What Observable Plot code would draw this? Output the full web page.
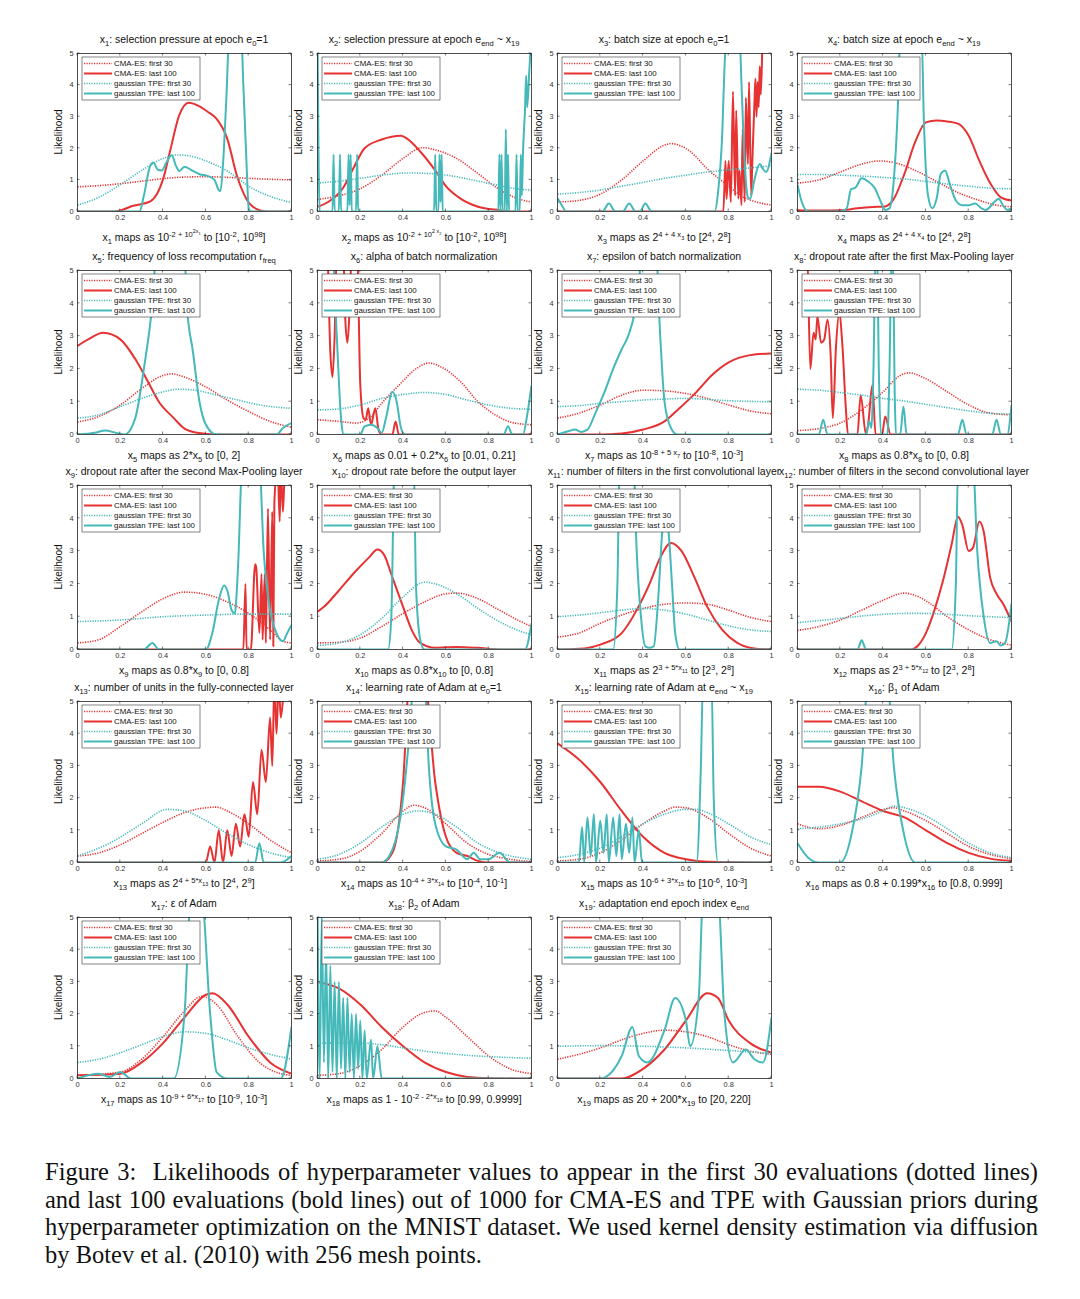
<!DOCTYPE html>
<html><head><meta charset="utf-8">
<script src="https://cdn.jsdelivr.net/npm/d3@7"></script>
<script src="https://cdn.jsdelivr.net/npm/@observablehq/plot@0.6"></script>
<style>
body{margin:0;background:#fff;font-family:"Liberation Sans",Arial,sans-serif;}
#root{position:relative;width:1080px;height:1299px;overflow:hidden;}
.title,.xlab{position:absolute;width:340px;text-align:center;white-space:nowrap;font-size:10.5px;color:#111;line-height:12px;}
.title sub,.xlab sub,.title sup,.xlab sup{font-size:0.72em;line-height:0;}
.panel{position:absolute;}
.caption{position:absolute;left:45px;top:1158px;width:993px;font-family:"Liberation Serif","Times New Roman",serif;font-size:24.5px;line-height:27.6px;color:#111;}
.caption span{display:block;text-align:justify;text-align-last:justify;white-space:nowrap;}
.caption span.last{text-align-last:left;}
</style></head>
<body><div id="root"></div>
<script>
// ---------- DATA ----------
const xTicks = [0, 0.2, 0.4, 0.6, 0.8, 1];
const yTicks = [0, 1, 2, 3, 4, 5];
const legendLabels = ["CMA-ES: first 30", "CMA-ES: last 100", "gaussian TPE: first 30", "gaussian TPE: last 100"];

const titles = [
 "x<sub>1</sub>: selection pressure at epoch e<sub>0</sub>=1",
 "x<sub>2</sub>: selection pressure at epoch e<sub>end</sub> ~ x<sub>19</sub>",
 "x<sub>3</sub>: batch size at epoch e<sub>0</sub>=1",
 "x<sub>4</sub>: batch size at epoch e<sub>end</sub> ~ x<sub>19</sub>",
 "x<sub>5</sub>: frequency of loss recomputation r<sub>freq</sub>",
 "x<sub>6</sub>: alpha of batch normalization",
 "x<sub>7</sub>: epsilon of batch normalization",
 "x<sub>8</sub>: dropout rate after the first Max-Pooling layer",
 "x<sub>9</sub>: dropout rate after the second Max-Pooling layer",
 "x<sub>10</sub>: dropout rate before the output layer",
 "x<sub>11</sub>: number of filters in the first convolutional layer",
 "x<sub>12</sub>: number of filters in the second convolutional layer",
 "x<sub>13</sub>: number of units in the fully-connected layer",
 "x<sub>14</sub>: learning rate of Adam at e<sub>0</sub>=1",
 "x<sub>15</sub>: learning rate of Adam at e<sub>end</sub> ~ x<sub>19</sub>",
 "x<sub>16</sub>: β<sub>1</sub> of Adam",
 "x<sub>17</sub>: ε of Adam",
 "x<sub>18</sub>: β<sub>2</sub> of Adam",
 "x<sub>19</sub>: adaptation end epoch index e<sub>end</sub>"
];
const xLabels = [
 "x<sub>1</sub> maps as 10<sup>-2 + 10<sup>2x<sub>1</sub></sup></sup> to [10<sup>-2</sup>, 10<sup>98</sup>]",
 "x<sub>2</sub> maps as 10<sup>-2 + 10<sup>2 x<sub>2</sub></sup></sup> to [10<sup>-2</sup>, 10<sup>98</sup>]",
 "x<sub>3</sub> maps as 2<sup>4 + 4 x<sub>3</sub></sup> to [2<sup>4</sup>, 2<sup>8</sup>]",
 "x<sub>4</sub> maps as 2<sup>4 + 4 x<sub>4</sub></sup> to [2<sup>4</sup>, 2<sup>8</sup>]",
 "x<sub>5</sub> maps as 2*x<sub>5</sub> to [0, 2]",
 "x<sub>6</sub> maps as 0.01 + 0.2*x<sub>6</sub> to [0.01, 0.21]",
 "x<sub>7</sub> maps as 10<sup>-8 + 5 x<sub>7</sub></sup> to [10<sup>-8</sup>, 10<sup>-3</sup>]",
 "x<sub>8</sub> maps as 0.8*x<sub>8</sub> to [0, 0.8]",
 "x<sub>9</sub> maps as 0.8*x<sub>9</sub> to [0, 0.8]",
 "x<sub>10</sub> maps as 0.8*x<sub>10</sub> to [0, 0.8]",
 "x<sub>11</sub> maps as 2<sup>3 + 5*x<sub>11</sub></sup> to [2<sup>3</sup>, 2<sup>8</sup>]",
 "x<sub>12</sub> maps as 2<sup>3 + 5*x<sub>12</sub></sup> to [2<sup>3</sup>, 2<sup>8</sup>]",
 "x<sub>13</sub> maps as 2<sup>4 + 5*x<sub>13</sub></sup> to [2<sup>4</sup>, 2<sup>9</sup>]",
 "x<sub>14</sub> maps as 10<sup>-4 + 3*x<sub>14</sub></sup> to [10<sup>-4</sup>, 10<sup>-1</sup>]",
 "x<sub>15</sub> maps as 10<sup>-6 + 3*x<sub>15</sub></sup> to [10<sup>-6</sup>, 10<sup>-3</sup>]",
 "x<sub>16</sub> maps as 0.8 + 0.199*x<sub>16</sub> to [0.8, 0.999]",
 "x<sub>17</sub> maps as 10<sup>-9 + 6*x<sub>17</sub></sup> to [10<sup>-9</sup>, 10<sup>-3</sup>]",
 "x<sub>18</sub> maps as 1 - 10<sup>-2 - 2*x<sub>18</sub></sup> to [0.99, 0.9999]",
 "x<sub>19</sub> maps as 20 + 200*x<sub>19</sub> to [20, 220]"
];
const showYLabel = [1,1,1,1, 1,1,1,1, 1,1,1,0, 1,1,1,1, 1,1,1];

// panel 1
const x1_cma30 = [[0,0.78],[0.1,0.82],[0.2,0.88],[0.3,0.96],[0.4,1.04],[0.5,1.09],[0.6,1.1],[0.7,1.08],[0.8,1.05],[0.9,1.02],[1,1.0]];
const x1_cma100 = [[0,0],[0.15,0],[0.19,0.02],[0.26,0.18],[0.34,0.32],[0.40,1.03],[0.435,1.98],[0.475,3.04],[0.52,3.44],[0.56,3.36],[0.61,3.15],[0.65,2.93],[0.70,2.3],[0.745,1.13],[0.79,0.39],[0.84,0.07],[0.885,0],[1,0]];
const x1_tpe30 = [[0,0.2],[0.1,0.45],[0.2,0.85],[0.3,1.3],[0.4,1.68],[0.47,1.79],[0.55,1.72],[0.6,1.6],[0.7,1.28],[0.75,1.05],[0.8,0.8],[0.9,0.48],[1,0.28]];
const x1_tpe100 = [[0,0],[0.29,0],[0.31,0.5],[0.34,1.45],[0.355,1.55],[0.375,1.32],[0.395,1.3],[0.415,1.55],[0.44,1.78],[0.46,1.45],[0.475,1.28],[0.5,1.42],[0.53,1.32],[0.57,1.18],[0.61,1.12],[0.64,1.0],[0.66,0.68],[0.668,0.65],[0.68,1.5],[0.695,3.5],[0.71,5.6],[0.765,5.6],[0.775,4],[0.79,1.5],[0.80,0.1],[0.81,0],[1,0]];
// panel 2
const x2_cma30 = [[0,0.38],[0.1,0.5],[0.2,0.72],[0.3,1.15],[0.4,1.68],[0.49,2.02],[0.55,1.95],[0.65,1.68],[0.75,1.2],[0.85,0.7],[0.93,0.42],[1,0.3]];
const x2_cma100 = [[0,0.15],[0.05,0.3],[0.12,0.75],[0.17,1.4],[0.22,2.0],[0.3,2.28],[0.39,2.4],[0.42,2.3],[0.48,1.9],[0.55,1.3],[0.6,0.8],[0.67,0.4],[0.75,0.15],[0.85,0.04],[0.9,0],[1,0]];
const x2_tpe30 = [[0,0.9],[0.1,0.96],[0.2,1.05],[0.3,1.15],[0.42,1.22],[0.55,1.19],[0.65,1.1],[0.75,0.96],[0.85,0.82],[0.93,0.72],[1,0.68]];
const x2_tpe100 = [[0,5.6],[0.01,0],[0.07,0],[0.075,1.8],[0.08,0],[0.1,0],[0.105,1.8],[0.11,0],[0.14,0],[0.145,1.8],[0.15,0.2],[0.155,1.8],[0.16,0],[0.18,0],[0.185,1.8],[0.19,0],[0.545,0],[0.55,1.8],[0.555,0],[0.565,0],[0.57,1.8],[0.575,0.3],[0.58,1.8],[0.585,0],[0.845,0],[0.85,1.8],[0.855,0],[0.86,1.8],[0.865,0],[0.875,0],[0.88,2.6],[0.885,0],[0.89,1.8],[0.895,0],[0.925,0],[0.93,1.8],[0.935,0],[0.945,0],[0.95,1.8],[0.955,0.5],[0.96,1.8],[0.97,3.3],[0.975,4.3],[0.98,3.3],[0.99,4.5],[1,5.6]];
// panel 3
const x3_cma30 = [[0,0.3],[0.1,0.35],[0.2,0.55],[0.3,1.0],[0.4,1.6],[0.5,2.1],[0.53,2.15],[0.62,1.9],[0.7,1.35],[0.8,0.8],[0.87,0.45],[0.93,0.3],[1,0.2]];
const x3_cma100 = [[0,0],[0.775,0],[0.785,1.6],[0.79,0.4],[0.80,1.6],[0.81,0.3],[0.82,3.8],[0.83,0.5],[0.835,3.2],[0.845,0.4],[0.85,1.3],[0.86,0.2],[0.865,2.6],[0.875,0.3],[0.88,3.6],[0.89,1.5],[0.895,4.1],[0.905,0.5],[0.91,1.5],[0.92,3.4],[0.925,4.2],[0.93,3.0],[0.935,4.1],[0.94,3.3],[0.945,4.6],[0.95,3.7],[0.96,5.6],[1,5.6]];
const x3_tpe30 = [[0,0.55],[0.1,0.6],[0.2,0.68],[0.3,0.8],[0.4,0.92],[0.5,1.05],[0.6,1.15],[0.7,1.25],[0.8,1.32],[0.9,1.38],[1,1.45]];
const x3_tpe100 = [[0,0.42],[0.02,0.2],[0.04,0],[0.21,0],[0.24,0.25],[0.27,0],[0.305,0],[0.335,0.25],[0.365,0],[0.385,0],[0.41,0.25],[0.44,0],[0.735,0],[0.75,0.6],[0.77,2.5],[0.78,4.5],[0.79,5.6],[0.85,5.6],[0.86,4],[0.875,1.5],[0.89,0.45],[0.9,0.4],[0.92,1.0],[0.945,1.5],[0.96,1.35],[0.975,1.25],[1,1.85]];
// panel 4
const x4_cma30 = [[0,0.9],[0.1,1.0],[0.2,1.25],[0.3,1.5],[0.38,1.6],[0.45,1.55],[0.55,1.3],[0.65,0.95],[0.75,0.6],[0.85,0.35],[0.93,0.2],[1,0.15]];
const x4_cma100 = [[0,0.04],[0.1,0.03],[0.2,0.04],[0.28,0.1],[0.35,0.14],[0.41,0.16],[0.45,0.4],[0.5,1.2],[0.55,2.2],[0.6,2.82],[0.65,2.88],[0.7,2.85],[0.75,2.78],[0.8,2.4],[0.85,1.6],[0.9,0.9],[0.95,0.45],[1,0.35]];
const x4_tpe30 = [[0,1.17],[0.1,1.17],[0.2,1.15],[0.3,1.12],[0.4,1.08],[0.5,1.03],[0.6,0.95],[0.7,0.87],[0.8,0.8],[0.9,0.74],[1,0.72]];
const x4_tpe100 = [[0,0.85],[0.02,0.3],[0.05,0],[0.2,0],[0.23,0.1],[0.25,0.7],[0.27,0.75],[0.3,1.05],[0.33,0.95],[0.36,0.75],[0.39,0.3],[0.41,0.05],[0.43,0.1],[0.45,1],[0.47,3.5],[0.48,5.6],[0.58,5.6],[0.59,3],[0.61,0.5],[0.63,0.1],[0.65,0.4],[0.67,1.2],[0.69,1.3],[0.71,0.9],[0.74,0.35],[0.77,0.2],[0.8,0.2],[0.83,0.25],[0.86,0.1],[0.88,0.05],[0.92,0.3],[0.94,0.4],[0.96,0.2],[0.98,0.05],[1,0.1]];
// panel 5
const x5_cma30 = [[0,0.38],[0.1,0.55],[0.2,0.9],[0.3,1.4],[0.4,1.8],[0.44,1.85],[0.5,1.75],[0.6,1.45],[0.7,1.05],[0.8,0.7],[0.9,0.4],[1,0.22]];
const x5_cma100 = [[0,2.7],[0.05,2.9],[0.12,3.1],[0.2,2.9],[0.27,2.3],[0.33,1.6],[0.38,1.0],[0.45,0.5],[0.5,0.18],[0.56,0.05],[0.65,0],[1,0]];
const x5_tpe30 = [[0,0.5],[0.1,0.6],[0.2,0.85],[0.3,1.1],[0.4,1.3],[0.47,1.38],[0.55,1.35],[0.65,1.2],[0.75,1.05],[0.85,0.9],[0.95,0.82],[1,0.8]];
const x5_tpe100 = [[0,0],[0.08,0.05],[0.13,0.12],[0.18,0.05],[0.22,0],[0.27,0.5],[0.31,2],[0.35,4],[0.37,5.6],[0.5,5.6],[0.51,4],[0.54,2.5],[0.57,1],[0.6,0.3],[0.65,0],[0.93,0],[0.96,0.2],[1,0.35]];
// panel 6
const x6_cma30 = [[0,0.45],[0.1,0.4],[0.18,0.35],[0.25,0.55],[0.3,0.95],[0.38,1.5],[0.46,2.0],[0.52,2.18],[0.58,2.05],[0.67,1.6],[0.75,1.0],[0.83,0.6],[0.92,0.35],[1,0.3]];
const x6_cma100 = [[0,5.6],[0.045,5.6],[0.06,2.5],[0.07,1.75],[0.08,3],[0.09,5.6],[0.12,5.6],[0.13,3.5],[0.14,2.8],[0.15,3.8],[0.16,5.6],[0.185,5.6],[0.2,1.5],[0.215,0.5],[0.225,0.45],[0.237,0.8],[0.25,0.3],[0.27,0.8],[0.285,0.15],[0.3,0],[0.35,0],[0.365,0.4],[0.38,0],[1,0]];
const x6_tpe30 = [[0,0.75],[0.1,0.78],[0.2,0.9],[0.3,1.1],[0.4,1.22],[0.5,1.28],[0.6,1.22],[0.7,1.05],[0.8,0.9],[0.9,0.8],[1,0.77]];
const x6_tpe100 = [[0,5.6],[0.07,5.6],[0.09,3],[0.11,0.5],[0.12,0],[0.2,0],[0.22,0.25],[0.25,0.3],[0.28,0.2],[0.3,0.05],[0.32,0.5],[0.35,1.3],[0.37,1.0],[0.39,0.2],[0.41,0],[0.87,0],[0.89,0.25],[0.91,0],[0.96,0],[0.98,0.6],[1,1.5]];
// panel 7
const x7_cma30 = [[0,0.5],[0.1,0.65],[0.2,0.9],[0.3,1.2],[0.4,1.35],[0.5,1.33],[0.6,1.25],[0.7,1.1],[0.8,0.9],[0.9,0.72],[1,0.63]];
const x7_cma100 = [[0,0],[0.2,0],[0.3,0.03],[0.4,0.15],[0.5,0.4],[0.57,0.8],[0.65,1.3],[0.72,1.8],[0.8,2.2],[0.9,2.42],[1,2.47]];
const x7_tpe30 = [[0,0.85],[0.1,0.88],[0.2,0.95],[0.3,1.0],[0.4,1.05],[0.5,1.08],[0.6,1.1],[0.7,1.07],[0.8,1.03],[0.9,1.01],[1,1.0]];
const x7_tpe100 = [[0,0],[0.05,0.1],[0.08,0.15],[0.11,0.08],[0.14,0.15],[0.18,0.7],[0.22,1.3],[0.26,2.0],[0.3,2.6],[0.33,3.0],[0.36,3.7],[0.38,4.6],[0.395,5.6],[0.46,5.6],[0.48,3],[0.5,1],[0.53,0.2],[0.56,0],[1,0]];
// panel 8
const x8_cma30 = [[0,0.12],[0.1,0.18],[0.2,0.35],[0.3,0.75],[0.4,1.3],[0.48,1.8],[0.52,1.88],[0.6,1.7],[0.7,1.3],[0.8,0.9],[0.9,0.65],[1,0.6]];
const x8_cma100 = [[0,5.6],[0.045,5.6],[0.06,2.0],[0.075,3.1],[0.085,2.9],[0.093,3.6],[0.11,2.8],[0.125,2.9],[0.14,3.5],[0.155,2.4],[0.165,0.5],[0.18,2.7],[0.195,3.7],[0.21,2.7],[0.225,0.9],[0.236,0],[0.28,0],[0.295,1.2],[0.32,0],[0.33,0.3],[0.35,1.5],[0.365,0],[0.395,0],[0.41,0.55],[0.435,0],[1,0]];
const x8_tpe30 = [[0,1.38],[0.1,1.35],[0.2,1.28],[0.3,1.2],[0.4,1.1],[0.5,1.02],[0.6,0.92],[0.7,0.82],[0.8,0.72],[0.9,0.65],[1,0.62]];
const x8_tpe100 = [[0,0],[0.1,0],[0.12,0.45],[0.14,0],[0.32,0],[0.335,0.4],[0.345,0.2],[0.355,2],[0.365,5.6],[0.372,5.6],[0.38,2],[0.39,0],[0.42,0],[0.43,2],[0.44,5.6],[0.445,5.6],[0.455,1],[0.46,0],[0.48,0],[0.495,0.85],[0.51,0],[0.75,0],[0.77,0.45],[0.79,0],[0.91,0],[0.93,0.45],[0.95,0],[0.98,0],[1,0.9]];
// panel 9
const x9_cma30 = [[0,0.2],[0.1,0.3],[0.2,0.7],[0.3,1.15],[0.4,1.55],[0.5,1.75],[0.6,1.68],[0.7,1.45],[0.8,1.1],[0.9,0.6],[0.96,0.25],[1,0.2]];
const x9_cma100 = [[0,0],[0.775,0],[0.785,2],[0.79,0],[0.81,0],[0.83,2.6],[0.835,2.5],[0.85,0.5],[0.86,2.3],[0.865,0.3],[0.875,2.3],[0.88,0.2],[0.89,4.3],[0.9,0.3],[0.91,4.2],[0.915,0.1],[0.92,4.5],[0.935,5.6],[0.945,3.9],[0.95,5.6],[0.96,4.2],[0.97,5.6],[1,5.6]];
const x9_tpe30 = [[0,0.85],[0.2,0.9],[0.4,1.0],[0.6,1.05],[0.8,1.08],[1,1.08]];
const x9_tpe100 = [[0,0],[0.31,0],[0.35,0.2],[0.38,0],[0.6,0],[0.63,0.5],[0.66,1.5],[0.685,1.95],[0.7,1.8],[0.72,1.2],[0.735,1.1],[0.75,2.5],[0.77,5.6],[0.85,5.6],[0.87,3],[0.9,1.2],[0.93,0.5],[0.96,0.25],[0.98,0.5],[1,0.75]];
// panel 10
const x10_cma30 = [[0,0.2],[0.1,0.22],[0.2,0.35],[0.3,0.7],[0.4,1.1],[0.5,1.45],[0.6,1.7],[0.65,1.72],[0.75,1.55],[0.85,1.2],[0.95,0.85],[1,0.7]];
const x10_cma100 = [[0,1.15],[0.03,1.3],[0.1,1.8],[0.18,2.4],[0.24,2.8],[0.28,3.05],[0.31,2.9],[0.35,2.2],[0.4,1.3],[0.44,0.6],[0.48,0.2],[0.55,0.05],[0.65,0.08],[0.75,0.05],[0.85,0],[1,0]];
const x10_tpe30 = [[0,0.12],[0.1,0.2],[0.2,0.45],[0.3,0.95],[0.4,1.6],[0.5,2.05],[0.55,2.0],[0.65,1.7],[0.75,1.25],[0.85,0.85],[0.95,0.55],[1,0.45]];
const x10_tpe100 = [[0,0],[0.33,0],[0.345,1],[0.36,5.6],[0.45,5.6],[0.46,2],[0.48,0.3],[0.5,0],[0.97,0],[1,0.8]];
// panel 11
const x11_cma30 = [[0,0.38],[0.1,0.5],[0.2,0.8],[0.3,1.05],[0.4,1.25],[0.5,1.38],[0.6,1.42],[0.7,1.38],[0.8,1.2],[0.9,0.98],[1,0.85]];
const x11_cma100 = [[0,0],[0.1,0.02],[0.2,0.15],[0.3,0.5],[0.37,1.2],[0.43,2.0],[0.48,2.8],[0.53,3.25],[0.58,3.0],[0.64,2.2],[0.7,1.3],[0.77,0.6],[0.84,0.2],[0.92,0.03],[1,0]];
const x11_tpe30 = [[0,1.0],[0.1,1.05],[0.2,1.12],[0.3,1.2],[0.4,1.25],[0.5,1.2],[0.6,1.08],[0.7,0.9],[0.8,0.72],[0.9,0.6],[1,0.55]];
const x11_tpe100 = [[0,0],[0.26,0],[0.28,2],[0.29,5.6],[0.355,5.6],[0.37,3],[0.39,1],[0.41,0.1],[0.43,0.05],[0.45,0.1],[0.47,1.5],[0.49,3.6],[0.505,4.1],[0.52,3.5],[0.535,2],[0.55,0.5],[0.57,0],[1,0]];
// panel 12
const x12_cma30 = [[0,0.58],[0.1,0.7],[0.2,0.9],[0.3,1.2],[0.4,1.5],[0.5,1.72],[0.55,1.65],[0.62,1.4],[0.7,1.0],[0.8,0.6],[0.9,0.3],[1,0.13]];
const x12_cma100 = [[0,0],[0.53,0],[0.56,0.1],[0.6,0.5],[0.64,1.2],[0.68,2.1],[0.72,3.2],[0.75,4.05],[0.77,3.8],[0.8,3.0],[0.82,3.1],[0.85,3.9],[0.87,3.6],[0.9,2.2],[0.93,1.7],[0.96,1.4],[1,0.85]];
const x12_tpe30 = [[0,0.82],[0.1,0.88],[0.2,0.95],[0.3,1.02],[0.4,1.07],[0.5,1.1],[0.6,1.1],[0.7,1.07],[0.8,1.03],[0.9,1.0],[1,0.97]];
const x12_tpe100 = [[0,0],[0.28,0],[0.3,0.28],[0.32,0],[0.72,0],[0.74,2],[0.75,5.6],[0.82,5.6],[0.84,3],[0.87,1],[0.9,0.2],[0.93,0.25],[0.95,0.12],[0.97,0.2],[1,1.4]];
// panel 13
const x13_cma30 = [[0,0.2],[0.1,0.3],[0.2,0.55],[0.3,0.9],[0.4,1.25],[0.5,1.55],[0.6,1.7],[0.65,1.72],[0.7,1.6],[0.8,1.2],[0.9,0.7],[1,0.3]];
const x13_cma100 = [[0,0],[0.6,0],[0.62,0.5],[0.64,0],[0.66,1],[0.68,0],[0.7,1],[0.72,0.2],[0.74,1.2],[0.76,0.5],[0.78,1.5],[0.8,0.8],[0.82,2.5],[0.84,1.5],[0.86,3.5],[0.88,2.5],[0.9,4.5],[0.91,3.0],[0.92,5.6],[0.93,4],[0.94,5.6],[0.95,4.5],[0.97,5.6],[1,5.6]];
const x13_tpe30 = [[0,0.2],[0.15,0.6],[0.3,1.2],[0.42,1.65],[0.5,1.6],[0.6,1.3],[0.7,0.9],[0.8,0.55],[0.9,0.3],[1,0.15]];
const x13_tpe100 = [[0,0],[0.83,0],[0.85,0.6],[0.87,0],[0.95,0],[1,0.2]];
// panel 14
const x14_cma30 = [[0,0.05],[0.1,0.1],[0.2,0.35],[0.3,0.9],[0.4,1.6],[0.45,1.78],[0.5,1.7],[0.6,1.2],[0.7,0.6],[0.8,0.25],[0.9,0.1],[1,0.03]];
const x14_cma100 = [[0,0],[0.3,0],[0.35,0.3],[0.4,2.5],[0.43,5.6],[0.5,5.6],[0.55,2.5],[0.6,0.8],[0.65,0.3],[0.7,0.2],[0.75,0.05],[0.8,0],[1,0]];
const x14_tpe30 = [[0,0.1],[0.1,0.25],[0.2,0.6],[0.3,1.1],[0.4,1.5],[0.47,1.6],[0.55,1.5],[0.65,1.1],[0.75,0.6],[0.85,0.3],[1,0.1]];
const x14_tpe100 = [[0,0],[0.3,0],[0.35,0.4],[0.4,2],[0.43,4],[0.45,5.6],[0.5,5.6],[0.52,3],[0.55,1.2],[0.6,0.5],[0.65,0.4],[0.7,0.1],[0.73,0.3],[0.76,0.1],[0.8,0.1],[0.85,0.3],[0.9,0],[1,0]];
// panel 15
const x15_cma30 = [[0,0.05],[0.1,0.1],[0.2,0.3],[0.3,0.7],[0.4,1.2],[0.5,1.6],[0.55,1.72],[0.6,1.7],[0.7,1.4],[0.8,0.9],[0.9,0.45],[1,0.2]];
const x15_cma100 = [[0,3.7],[0.1,3.2],[0.2,2.5],[0.3,1.6],[0.4,0.8],[0.5,0.3],[0.6,0.1],[0.7,0.02],[1,0]];
const x15_tpe30 = [[0,0.15],[0.1,0.25],[0.2,0.45],[0.3,0.8],[0.4,1.2],[0.5,1.5],[0.6,1.65],[0.65,1.65],[0.7,1.55],[0.8,1.2],[0.9,0.8],[1,0.55]];
const x15_tpe100 = [[0,0],[0.1,0],[0.115,1.1],[0.125,0],[0.14,1.4],[0.155,0.2],[0.17,1.5],[0.18,0],[0.2,1.3],[0.215,0.3],[0.23,1.5],[0.24,0],[0.26,1.4],[0.275,0.2],[0.29,1.5],[0.3,0.1],[0.32,1.2],[0.335,0.3],[0.35,1.4],[0.36,0],[0.38,1.0],[0.395,0],[0.65,0],[0.67,3],[0.68,5.6],[0.72,5.6],[0.73,2],[0.75,0],[1,0]];
// panel 16
const x16_cma30 = [[0,1.2],[0.1,1.05],[0.2,1.15],[0.3,1.4],[0.4,1.65],[0.45,1.7],[0.5,1.6],[0.6,1.3],[0.7,0.9],[0.8,0.5],[0.9,0.25],[1,0.12]];
const x16_cma100 = [[0,2.35],[0.1,2.35],[0.2,2.2],[0.3,1.9],[0.4,1.6],[0.5,1.4],[0.6,1.0],[0.7,0.6],[0.8,0.3],[0.9,0.12],[1,0.05]];
const x16_tpe30 = [[0,1.05],[0.1,1.1],[0.2,1.2],[0.3,1.35],[0.4,1.6],[0.45,1.75],[0.5,1.7],[0.6,1.45],[0.7,1.05],[0.8,0.6],[0.9,0.3],[1,0.15]];
const x16_tpe100 = [[0,0.6],[0.05,0.15],[0.1,0],[0.2,0],[0.25,0.8],[0.3,3],[0.33,5.6],[0.42,5.6],[0.45,3],[0.5,0.8],[0.55,0],[1,0]];
// panel 17
const x17_cma30 = [[0,0.1],[0.2,0.2],[0.3,0.6],[0.4,1.3],[0.5,2.1],[0.58,2.55],[0.65,2.3],[0.75,1.3],[0.85,0.5],[0.95,0.15],[1,0.1]];
const x17_cma100 = [[0,0.1],[0.2,0.15],[0.3,0.5],[0.4,1.1],[0.5,1.9],[0.6,2.6],[0.63,2.65],[0.7,2.3],[0.8,1.3],[0.9,0.5],[1,0.15]];
const x17_tpe30 = [[0,0.5],[0.1,0.6],[0.2,0.8],[0.3,1.05],[0.4,1.3],[0.5,1.45],[0.6,1.4],[0.7,1.2],[0.8,0.95],[0.9,0.75],[1,0.6]];
const x17_tpe100 = [[0,0],[0.1,0.15],[0.15,0.05],[0.2,0.2],[0.25,0],[0.45,0],[0.5,2],[0.53,5.6],[0.58,5.6],[0.62,2],[0.65,0.2],[0.7,0],[0.95,0],[1,1.6]];
// panel 18
const x18_cma30 = [[0,0.1],[0.1,0.15],[0.2,0.4],[0.3,0.9],[0.4,1.6],[0.5,2.05],[0.55,2.1],[0.6,1.9],[0.7,1.3],[0.8,0.7],[0.9,0.3],[1,0.15]];
const x18_cma100 = [[0,3.0],[0.1,2.8],[0.2,2.3],[0.3,1.6],[0.4,1.0],[0.5,0.5],[0.6,0.2],[0.7,0.05],[0.8,0.01],[1,0]];
const x18_tpe30 = [[0,1.1],[0.1,1.1],[0.2,1.1],[0.3,1.05],[0.4,0.95],[0.5,0.85],[0.6,0.78],[0.7,0.72],[0.8,0.68],[0.9,0.65],[1,0.63]];
const x18_tpe100 = [[0,5.6],[0.01,0],[0.02,5],[0.03,0.5],[0.04,4],[0.05,0],[0.06,3.5],[0.07,0.2],[0.08,3],[0.09,0],[0.1,3],[0.11,0.3],[0.12,2.5],[0.13,0],[0.14,2.5],[0.15,0.2],[0.16,2],[0.17,0],[0.18,2],[0.19,0.3],[0.2,1.8],[0.21,0],[0.22,1.5],[0.23,0],[0.25,1.2],[0.26,0],[0.28,1],[0.3,0],[1,0]];
// panel 19
const x19_cma30 = [[0,0.6],[0.1,0.75],[0.2,0.95],[0.3,1.2],[0.4,1.4],[0.5,1.5],[0.6,1.45],[0.7,1.3],[0.8,1.05],[0.9,0.85],[1,0.75]];
const x19_cma100 = [[0,0],[0.3,0],[0.4,0.3],[0.5,0.9],[0.6,1.8],[0.7,2.65],[0.75,2.5],[0.8,1.8],[0.9,1.1],[1,0.8]];
const x19_tpe30 = [[0,1.0],[0.2,1.02],[0.4,1.0],[0.6,0.95],[0.8,0.87],[1,0.78]];
const x19_tpe100 = [[0,0],[0.2,0],[0.3,0.7],[0.35,1.6],[0.38,0.7],[0.42,0.5],[0.5,1.5],[0.55,2.5],[0.6,1.8],[0.62,1.0],[0.66,2.5],[0.68,5.6],[0.75,5.6],[0.78,2],[0.82,0.5],[0.88,0.9],[0.92,0.6],[0.96,0.5],[1,1.9]];

const panelSeries = [
 [x1_cma30,x1_cma100,x1_tpe30,x1_tpe100],[x2_cma30,x2_cma100,x2_tpe30,x2_tpe100],
 [x3_cma30,x3_cma100,x3_tpe30,x3_tpe100],[x4_cma30,x4_cma100,x4_tpe30,x4_tpe100],
 [x5_cma30,x5_cma100,x5_tpe30,x5_tpe100],[x6_cma30,x6_cma100,x6_tpe30,x6_tpe100],
 [x7_cma30,x7_cma100,x7_tpe30,x7_tpe100],[x8_cma30,x8_cma100,x8_tpe30,x8_tpe100],
 [x9_cma30,x9_cma100,x9_tpe30,x9_tpe100],[x10_cma30,x10_cma100,x10_tpe30,x10_tpe100],
 [x11_cma30,x11_cma100,x11_tpe30,x11_tpe100],[x12_cma30,x12_cma100,x12_tpe30,x12_tpe100],
 [x13_cma30,x13_cma100,x13_tpe30,x13_tpe100],[x14_cma30,x14_cma100,x14_tpe30,x14_tpe100],
 [x15_cma30,x15_cma100,x15_tpe30,x15_tpe100],[x16_cma30,x16_cma100,x16_tpe30,x16_tpe100],
 [x17_cma30,x17_cma100,x17_tpe30,x17_tpe100],[x18_cma30,x18_cma100,x18_tpe30,x18_tpe100],
 [x19_cma30,x19_cma100,x19_tpe30,x19_tpe100]
];

// ---------- STYLE / LAYOUT ----------
const RED = "#e63232", TEAL = "#45b9b9";
const seriesStyle = [
 {stroke: RED, strokeWidth: 1.6, dash: "1.2,1.3"},
 {stroke: RED, strokeWidth: 2.0, dash: "none"},
 {stroke: TEAL, strokeWidth: 1.6, dash: "1.2,1.3"},
 {stroke: TEAL, strokeWidth: 2.0, dash: "none"}
];
const colLeft = [77, 317, 557, 797];
const rowTop = [53, 270, 485, 701, 917];
const rowBot = [211, 434, 649, 862, 1078];
const PW = 214;
const mL = 36, mR = 8, mT = 6, mB = 14;
const FONT = "'Liberation Sans', Arial, sans-serif";

const root = document.getElementById("root");

panelSeries.forEach((series, i) => {
  const col = i % 4, row = Math.floor(i / 4);
  const L = colLeft[col], T = rowTop[row], B = rowBot[row], PH = B - T;
  const marks = [
    Plot.axisX({ticks: xTicks, tickFormat: d => String(d), tickSize: 0, tickPadding: 3, label: null, fontSize: 7.4}),
    Plot.axisY({ticks: yTicks, tickFormat: d => String(d), tickSize: 0, tickPadding: 4, label: null, fontSize: 7.4}),
  ];
  series.forEach((s, k) => {
    const st = seriesStyle[k];
    marks.push(Plot.line(s, {x: d => d[0], y: d => d[1], stroke: st.stroke, strokeWidth: st.strokeWidth,
      strokeDasharray: st.dash, strokeLinecap: "butt", strokeLinejoin: "round", curve: "monotone-x", clip: true}));
  });
  marks.push(Plot.frame({stroke: "#222", strokeWidth: 0.8}));
  const chart = Plot.plot({
    width: PW + mL + mR, height: PH + mT + mB,
    marginLeft: mL, marginRight: mR, marginTop: mT, marginBottom: mB,
    x: {domain: [0, 1]}, y: {domain: [0, 5]},
    style: {fontFamily: FONT, color: "#333", background: "transparent", overflow: "visible"},
    marks
  });
  const svg = d3.select(chart);
  // inward ticks (MATLAB style)
  const xs = d3.scaleLinear([0,1],[mL, mL+PW]);
  const ys = d3.scaleLinear([0,5],[mT+PH, mT]);
  const tg = svg.append("g").attr("stroke","#222").attr("stroke-width",0.6);
  xTicks.forEach(t => {
    tg.append("line").attr("x1",xs(t)).attr("x2",xs(t)).attr("y1",mT+PH).attr("y2",mT+PH-2.5);
    tg.append("line").attr("x1",xs(t)).attr("x2",xs(t)).attr("y1",mT).attr("y2",mT+2.5);
  });
  yTicks.forEach(t => {
    tg.append("line").attr("x1",mL).attr("x2",mL+2.5).attr("y1",ys(t)).attr("y2",ys(t));
    tg.append("line").attr("x1",mL+PW).attr("x2",mL+PW-2.5).attr("y1",ys(t)).attr("y2",ys(t));
  });
  // y label
  if (showYLabel[i]) {
    svg.append("text").attr("transform", `translate(${mL-15},${mT+PH/2}) rotate(-90)`)
      .attr("text-anchor","middle").attr("font-size", 10).attr("fill","#111")
      .attr("font-family", FONT).text("Likelihood");
  }
  // legend
  const g = svg.append("g").attr("transform", `translate(${mL+5},${mT+4})`);
  g.append("rect").attr("width", 118).attr("height", 43).attr("fill", "white").attr("stroke", "#333").attr("stroke-width", 0.6);
  legendLabels.forEach((lab, k) => {
    const st = seriesStyle[k];
    const y = 6.5 + k * 10;
    g.append("line").attr("x1", 2).attr("x2", 30).attr("y1", y).attr("y2", y)
      .attr("stroke", st.stroke).attr("stroke-width", st.strokeWidth).attr("stroke-dasharray", st.dash)
      .attr("stroke-linecap", "butt");
    g.append("text").attr("x", 32).attr("y", y).attr("dy", "0.35em").attr("font-size", 7.9)
      .attr("text-anchor", "start")
      .attr("font-family", FONT).attr("fill", "#111").text(lab);
  });
  const wrap = document.createElement("div");
  wrap.className = "panel";
  wrap.style.left = (L - mL) + "px";
  wrap.style.top = (T - mT) + "px";
  wrap.appendChild(chart);
  root.appendChild(wrap);

  const t = document.createElement("div");
  t.className = "title";
  t.innerHTML = titles[i];
  t.style.left = (L + PW/2 - 170) + "px";
  t.style.top = (T - 20) + "px";
  root.appendChild(t);

  const xl = document.createElement("div");
  xl.className = "xlab";
  xl.innerHTML = xLabels[i];
  xl.style.left = (L + PW/2 - 170) + "px";
  xl.style.top = (B + (row === 0 ? 20 : 15)) + "px";
  root.appendChild(xl);
});

const cap = document.createElement("div");
cap.className = "caption";
cap.innerHTML = "<span>Figure 3:&nbsp; Likelihoods of hyperparameter values to appear in the first 30 evaluations (dotted lines)</span>" +
 "<span>and last 100 evaluations (bold lines) out of 1000 for CMA-ES and TPE with Gaussian priors during</span>" +
 "<span>hyperparameter optimization on the MNIST dataset. We used kernel density estimation via diffusion</span>" +
 "<span class='last'>by Botev et al. (2010) with 256 mesh points.</span>";
root.appendChild(cap);
</script>
</body></html>
